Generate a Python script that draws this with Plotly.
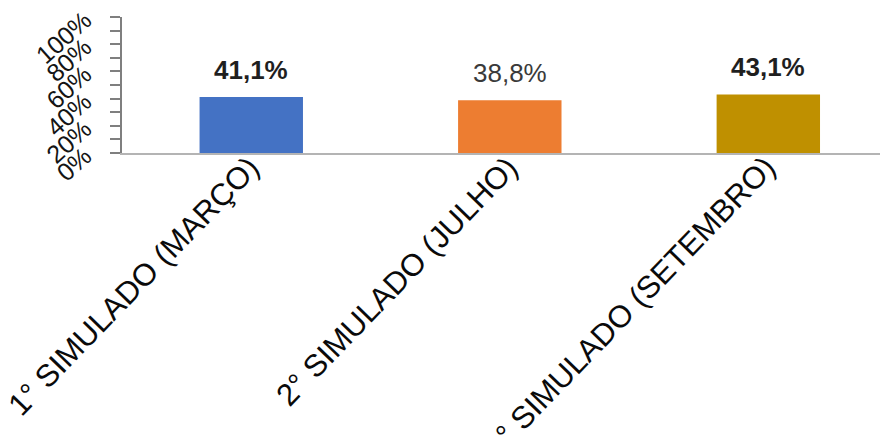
import plotly.graph_objects as go

# Taxa média de acertos por simulado
categorias = ["1° SIMULADO (MARÇO)", "2° SIMULADO (JULHO)", "3° SIMULADO (SETEMBRO)"]
valores = [0.411, 0.388, 0.431]
rotulos = ["41,1%", "38,8%", "43,1%"]
negrito = [True, False, True]
cores = ["#4472C4", "#ED7D31", "#BF9000"]
ticks_y = [0, 0.2, 0.4, 0.6, 0.8, 1.0]
ticks_y_texto = ["0%", "20%", "40%", "60%", "80%", "100%"]

FONTE = "Liberation Sans, Arial, sans-serif"

fig = go.Figure(
    go.Bar(
        x=categorias,
        y=valores,
        marker=dict(color=cores, line=dict(width=0)),
        width=0.4,
        hoverinfo="skip",
    )
)

# rótulos de valor acima das barras
for cat, v, txt, b in zip(categorias, valores, rotulos, negrito):
    fig.add_annotation(
        x=cat, y=v, text=f"<b>{txt}</b>" if b else txt,
        showarrow=False, yanchor="bottom", yshift=10,
        font=dict(family=FONTE, size=26, color="#1f1f1f" if b else "#3a3a3a"),
    )

# nomes das categorias, inclinados
for cat in categorias:
    fig.add_annotation(
        x=cat, y=0, text=cat, textangle=-46,
        showarrow=False, xanchor="right", yanchor="top",
        xshift=17, yshift=6,
        font=dict(family=FONTE, size=31, color="#0a0a0a"),
    )

fig.update_layout(
    width=880, height=435,
    margin=dict(l=122, r=0, t=17, b=282),
    paper_bgcolor="white", plot_bgcolor="white",
    showlegend=False,
    xaxis=dict(
        type="category",
        range=[-0.5, 2.432],
        showline=True, linecolor="#B4B4B4", linewidth=2,
        ticks="", showticklabels=False,
        automargin=False, showgrid=False,
    ),
    yaxis=dict(
        range=[0, 1],
        tickvals=ticks_y, ticktext=ticks_y_texto,
        tickangle=-42,
        showline=True, linecolor="#7F7F7F", linewidth=2,
        ticks="outside", ticklen=10, tickcolor="#7F7F7F", tickwidth=1.5,
        minor=dict(dtick=0.1, ticks="outside", ticklen=10, tickcolor="#7F7F7F", tickwidth=1.5),
        ticklabelstandoff=20,
        tickfont=dict(family=FONTE, size=25, color="#141414"),
        showgrid=False, zeroline=False, automargin=False,
    ),
)

fig.write_html("out.html")
